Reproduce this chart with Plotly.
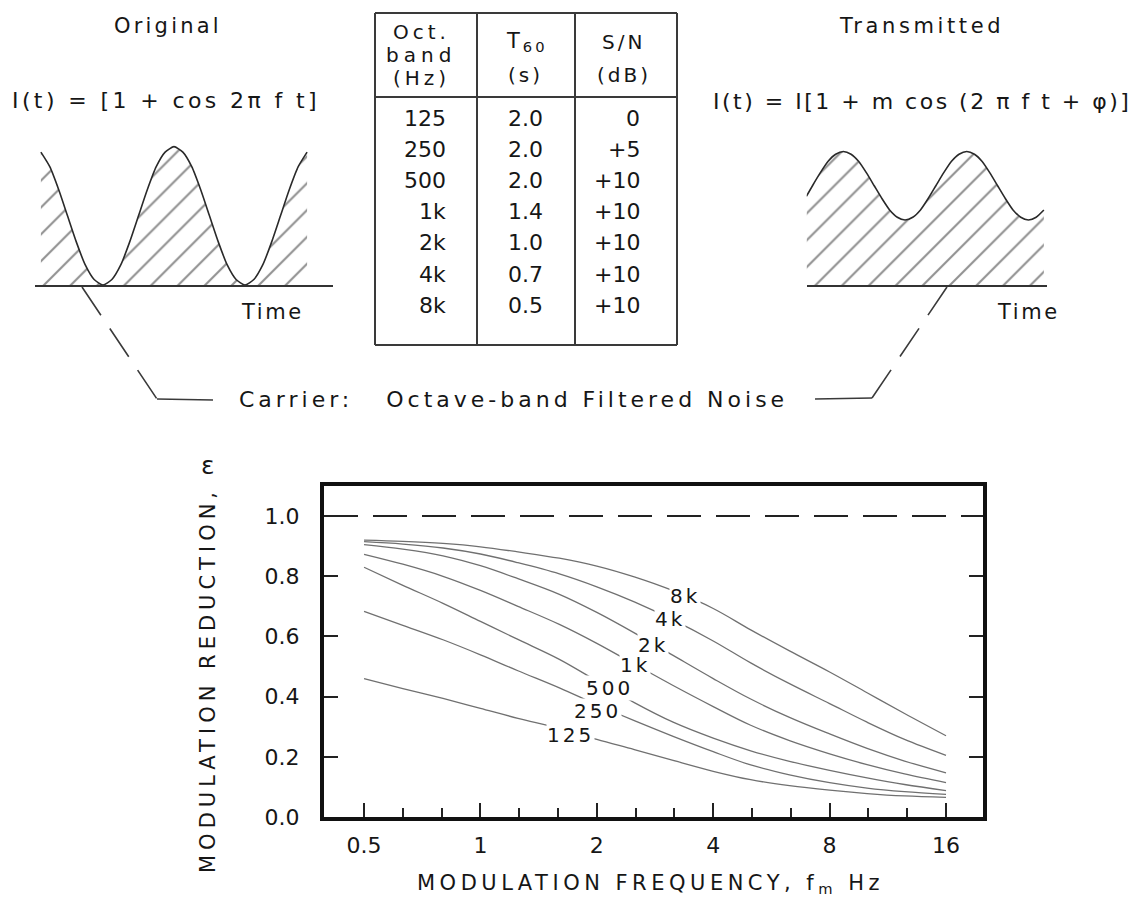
import numpy as np
import plotly.graph_objects as go

W, H = 1141, 903
FONT = "DejaVu Sans"
INK = "#161616"

# ---------------- data ----------------
# modulation transfer curves
mod_freq = [0.5, 0.63, 0.8, 1, 1.25, 1.6, 2, 2.5, 3.15, 4, 5, 6.3, 8, 10, 12.5, 16]
band_labels = ["8k", "4k", "2k", "1k", "500", "250", "125"]
m_8k = [0.920, 0.916, 0.909, 0.898, 0.881, 0.860, 0.834, 0.798, 0.752, 0.693, 0.622, 0.552, 0.482, 0.413, 0.344, 0.270]
m_4k = [0.915, 0.907, 0.894, 0.874, 0.845, 0.808, 0.765, 0.715, 0.655, 0.585, 0.512, 0.443, 0.377, 0.315, 0.258, 0.205]
m_2k = [0.905, 0.890, 0.868, 0.835, 0.792, 0.740, 0.680, 0.612, 0.537, 0.460, 0.392, 0.331, 0.276, 0.228, 0.186, 0.147]
m_1k = [0.873, 0.840, 0.800, 0.753, 0.700, 0.640, 0.577, 0.508, 0.437, 0.367, 0.305, 0.254, 0.210, 0.174, 0.143, 0.114]
m_500 = [0.830, 0.770, 0.710, 0.650, 0.590, 0.524, 0.452, 0.380, 0.315, 0.262, 0.220, 0.185, 0.155, 0.130, 0.108, 0.088]
m_250 = [0.683, 0.637, 0.589, 0.539, 0.486, 0.429, 0.373, 0.320, 0.268, 0.217, 0.173, 0.140, 0.114, 0.096, 0.084, 0.075]
m_125 = [0.460, 0.427, 0.394, 0.361, 0.328, 0.295, 0.258, 0.224, 0.188, 0.152, 0.124, 0.104, 0.089, 0.078, 0.070, 0.065]
label_freq = [3.38, 3.09, 2.80, 2.51, 2.16, 2.01, 1.71]
label_shift = [0, -1, -1, 0, 0, -6, -3]

x_tick_vals = [0.5, 1, 2, 4, 8, 16]
x_tick_text = ["0.5", "1", "2", "4", "8", "16"]
y_tick_vals = [0.0, 0.2, 0.4, 0.6, 0.8, 1.0]
y_tick_text = ["0.0", "0.2", "0.4", "0.6", "0.8", "1.0"]

# table
oct_band = ["125", "250", "500", "1k", "2k", "4k", "8k"]
t60 = ["2.0", "2.0", "2.0", "1.4", "1.0", "0.7", "0.5"]
sn_db = ["0", "+5", "+10", "+10", "+10", "+10", "+10"]

# sketched waveforms (time in periods, intensity)
orig_t = [-0.9375, -0.875, -0.8125, -0.75, -0.6875, -0.625, -0.5625, -0.5, -0.4375, -0.375,
          -0.3125, -0.25, -0.1875, -0.125, -0.0625, 0.0, 0.0625, 0.125, 0.1875, 0.25,
          0.3125, 0.375, 0.4375, 0.5, 0.5625, 0.625, 0.6875, 0.75, 0.8125, 0.875, 0.9375]
orig_I = [1.92, 1.71, 1.38, 1.0, 0.62, 0.29, 0.08, 0.0, 0.08, 0.29,
          0.62, 1.0, 1.38, 1.71, 1.92, 2.0, 1.92, 1.71, 1.38, 1.0,
          0.62, 0.29, 0.08, 0.0, 0.08, 0.29, 0.62, 1.0, 1.38, 1.71, 1.92]
trans_t = [-0.3, -0.25, -0.1875, -0.125, -0.0625, 0.0, 0.0625, 0.125, 0.1875, 0.25,
           0.3125, 0.375, 0.4375, 0.5, 0.5625, 0.625, 0.6875, 0.75, 0.8125, 0.875,
           0.9375, 1.0, 1.0625, 1.125, 1.1875, 1.25, 1.3125, 1.375, 1.4375, 1.5,
           1.5625, 1.625]
trans_I = [1.28, 1.435, 1.62, 1.785, 1.89, 1.93, 1.89, 1.785, 1.62, 1.435,
           1.25, 1.085, 0.98, 0.94, 0.98, 1.085, 1.25, 1.435, 1.62, 1.785,
           1.89, 1.93, 1.89, 1.785, 1.62, 1.435, 1.25, 1.085, 0.98, 0.94,
           0.98, 1.085]


def px(x):
    return x / W


def py(y):
    return 1 - y / H


def spaced(s, sp):
    return '<span style="letter-spacing:%.1fpx">%s</span>' % (sp, s) if sp else s


fig = go.Figure()

curves = [m_8k, m_4k, m_2k, m_1k, m_500, m_250, m_125]
for name, vals in zip(band_labels, curves):
    fig.add_trace(go.Scatter(
        x=mod_freq, y=vals, mode="lines", name=name, hoverinfo="skip",
        line=dict(color="#707070", width=1.3, shape="spline", smoothing=1.0)))

pattern = dict(shape="/", fgcolor="#222222", bgcolor="white", size=19, solidity=0.11)
fig.add_trace(go.Scatter(
    x=orig_t, y=orig_I, xaxis="x2", yaxis="y2", mode="lines", hoverinfo="skip",
    line=dict(color="#2a2a2a", width=1.6, shape="spline", smoothing=0.6),
    fill="tozeroy", fillcolor="white", fillpattern=pattern))
fig.add_trace(go.Scatter(
    x=trans_t, y=trans_I, xaxis="x3", yaxis="y3", mode="lines", hoverinfo="skip",
    line=dict(color="#2a2a2a", width=1.6, shape="spline", smoothing=0.6),
    fill="tozeroy", fillcolor="white", fillpattern=pattern))

ann = []


def text(x, y, s, size=21, xanchor="center", angle=0, sp=0):
    ann.append(dict(x=px(x), y=py(y), xref="paper", yref="paper", text=spaced(s, sp),
                    showarrow=False, xanchor=xanchor, yanchor="middle", textangle=angle,
                    font=dict(family=FONT, size=size, color=INK)))


# top texts
text(168, 26, "Original", sp=3.2)
text(166, 100, "I(t) = [1 + cos 2π f t]", size=22, sp=3.4)
text(272, 312, "Time", sp=2.6)
text(921, 26, "Transmitted", sp=3.6)
text(922, 101, "I(t) = I[1 + m cos (2 π f t + φ)]", size=22, sp=2.5)
text(1028, 312, "Time", sp=2.6)
text(513, 399, "Carrier:\u00a0\u00a0 Octave-band Filtered Noise", size=22, sp=4.0)

# table header
text(421, 32, "Oct.", size=20, sp=4)
text(421, 55, "band", size=20, sp=5)
text(421, 78, "(Hz)", size=20, sp=4)
text(527, 42, "T<sub>60</sub>", size=21, sp=3)
text(525, 75, "(s)", size=20, sp=3)
text(623, 42, "S/N", size=20, sp=3)
text(624, 75, "(dB)", size=20, sp=3)
for i, (b, t, s) in enumerate(zip(oct_band, t60, sn_db)):
    yy = 118.5 + i * 31.1
    text(448, yy, b, size=22, xanchor="right")
    text(525, yy, t, size=22)
    text(642, yy, s, size=22, xanchor="right")

# axis titles of the lower chart
text(208, 465, "ε", size=25)
text(208, 680, "MODULATION REDUCTION,", size=21, angle=-90, sp=5)
text(650, 884, "MODULATION FREQUENCY, f<sub>m</sub> Hz", size=21, sp=4.5)

# curve labels
lf = np.log10(mod_freq)
for name, vals, f, sh in zip(band_labels, curves, label_freq, label_shift):
    yv = float(np.interp(np.log10(f), lf, vals))
    ann.append(dict(x=np.log10(f), y=yv, xref="x", yref="y", text=spaced(name, 3),
                    showarrow=False, xanchor="center", yanchor="middle", yshift=sh,
                    bgcolor="white", borderpad=0,
                    font=dict(family=FONT, size=20, color=INK)))

shapes = []


def line(x0, y0, x1, y1, width=2, dash="solid", color="#3a3a3a"):
    shapes.append(dict(type="line", xref="paper", yref="paper",
                       x0=px(x0), y0=py(y0), x1=px(x1), y1=py(y1),
                       line=dict(color=color, width=width, dash=dash)))


# table grid
line(375, 13, 677, 13)
line(375, 345, 677, 345)
line(375, 13, 375, 345)
line(677, 13, 677, 345)
line(477, 13, 477, 345)
line(575, 13, 575, 345)
line(375, 97, 677, 97)

# carrier connectors
line(82, 287, 157, 399, width=1.6, dash="34px,16px")
line(157, 399, 213, 400, width=1.6)
line(872, 398, 947, 287, width=1.6, dash="34px,16px")
line(815, 399, 872, 398, width=1.6)

# dashed 1.0 reference
shapes.append(dict(type="line", xref="x domain", yref="y", x0=0, x1=1, y0=1.0, y1=1.0,
                   line=dict(color="#222", width=2, dash="34px,15px"), layer="below"))

minor_vals = [0.5 * 2 ** (k / 3) for k in range(16) if k % 3 != 0]

axis_font = dict(family=FONT, size=22, color=INK)
fig.update_layout(
    width=W, height=H, margin=dict(l=0, r=0, t=0, b=0, autoexpand=False),
    paper_bgcolor="white", plot_bgcolor="white", showlegend=False,
    font=dict(family=FONT, color=INK),
    annotations=ann, shapes=shapes,
    xaxis=dict(domain=[px(324), px(983)], type="log", automargin=False,
               range=[-0.4046, 1.2998],
               tickmode="array", tickvals=x_tick_vals, ticktext=x_tick_text,
               ticks="inside", ticklen=14, tickwidth=1.6, tickcolor="#222",
               showline=True, linewidth=4, linecolor="#111", mirror=True,
               showgrid=False, zeroline=False, tickfont=axis_font, ticklabelstandoff=6,
               minor=dict(tickmode="array", tickvals=minor_vals, ticks="inside",
                          ticklen=9, tickwidth=1.6, tickcolor="#222", showgrid=False)),
    yaxis=dict(domain=[py(817), py(486)], range=[0, 1.1], automargin=False,
               tickmode="array", tickvals=y_tick_vals, ticktext=y_tick_text,
               ticks="inside", ticklen=14, tickwidth=1.6, tickcolor="#222",
               showline=True, linewidth=4, linecolor="#111", mirror="ticks",
               showgrid=False, zeroline=False, tickfont=axis_font, ticklabelstandoff=16),
    xaxis2=dict(domain=[px(35), px(333)], range=[-0.979, 1.120], anchor="y2",
                automargin=False, showline=True, linewidth=2.2, linecolor="#333",
                showticklabels=False, ticks="", showgrid=False, zeroline=False),
    yaxis2=dict(domain=[py(285), py(132.8)], range=[0, 2.2], anchor="x2",
                automargin=False, visible=False),
    xaxis3=dict(domain=[px(806.7), px(1046.7)], range=[-0.297, 1.648], anchor="y3",
                automargin=False, showline=True, linewidth=2.2, linecolor="#333",
                showticklabels=False, ticks="", showgrid=False, zeroline=False),
    yaxis3=dict(domain=[py(285), py(132.8)], range=[0, 2.2], anchor="x3",
                automargin=False, visible=False),
)

fig.write_html("out.html")
